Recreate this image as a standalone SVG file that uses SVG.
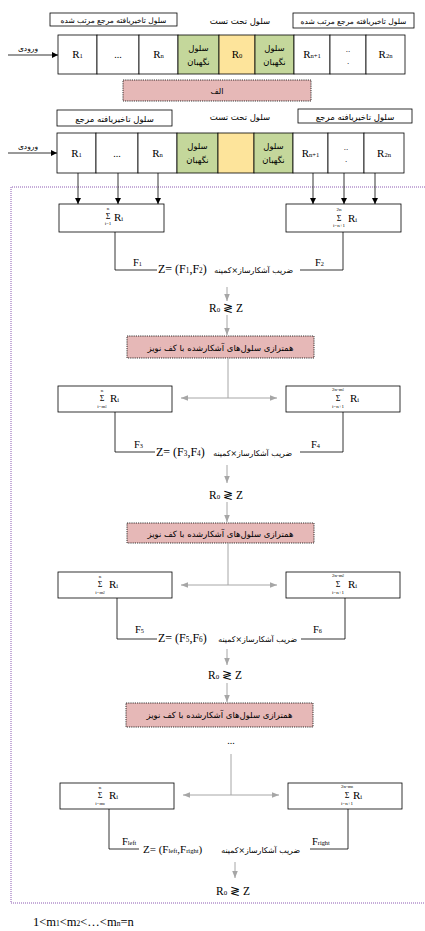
<svg xmlns="http://www.w3.org/2000/svg" width="425" height="931" viewBox="0 0 425 931">
<defs>
<style>
.cell{fill:#fff;stroke:#000;stroke-width:0.8}
.gc{fill:#c4d79b;stroke:#000;stroke-width:0.8}
.yc{fill:#fde49b;stroke:#000;stroke-width:0.8}
.pink{fill:#e6b8b7;stroke:#000;stroke-width:0.8;stroke-dasharray:1.2 1}
.box{fill:#fff;stroke:#000;stroke-width:0.8}
.fa{font-family:"DejaVu Sans",sans-serif;fill:#000}
.lt{font-family:"Liberation Serif",serif;fill:#000}
.blk{stroke:#000;stroke-width:0.8;fill:none}
.gry{stroke:#a6a6a6;stroke-width:1;fill:none}
.pur{stroke:#7030a0;stroke-width:0.8;fill:none;stroke-dasharray:1 1}
.s{font-size:60%}
</style>
<marker id="ab" viewBox="0 0 10 10" refX="10" refY="5" markerWidth="6" markerHeight="6" orient="auto-start-reverse" markerUnits="userSpaceOnUse"><path d="M0,0 L10,5 L0,10 z" fill="#000"/></marker>
<marker id="ag" viewBox="0 0 10 10" refX="10" refY="5" markerWidth="7" markerHeight="7" orient="auto-start-reverse" markerUnits="userSpaceOnUse"><path d="M0,1 L10,5 L0,9 z" fill="#a6a6a6"/></marker>
</defs>

<g id="rowA">
<rect class="box" x="50" y="13" width="127" height="13"/>
<text class="fa" x="113.5" y="22.5" font-size="7.5" text-anchor="middle">سلول تاخیریافته مرجع مرتب شده</text>
<rect class="box" x="293" y="13" width="121" height="15"/>
<text class="fa" x="353.5" y="23.5" font-size="7.5" text-anchor="middle">سلول تاخیریافته مرجع مرتب شده</text>
<text class="fa" x="240" y="24" font-size="8.5" text-anchor="middle">سلول تحت تست</text>
<rect class="cell" x="58" y="35" width="39" height="39"/>
<rect class="cell" x="97" y="35" width="42" height="39"/>
<rect class="cell" x="139" y="35" width="39" height="39"/>
<rect class="gc" x="178" y="35" width="41" height="39"/>
<rect class="yc" x="219" y="35" width="36" height="39"/>
<rect class="gc" x="255" y="35" width="39" height="39"/>
<rect class="cell" x="294" y="35" width="36" height="39"/>
<rect class="cell" x="330" y="35" width="36" height="39"/>
<rect class="cell" x="366" y="35" width="39" height="39"/>
<text class="lt" x="77.5" y="58" font-size="11" text-anchor="middle">R<tspan class="s">1</tspan></text>
<text class="lt" x="118" y="58" font-size="10" text-anchor="middle">...</text>
<text class="lt" x="158.5" y="58" font-size="11" text-anchor="middle">R<tspan class="s">n</tspan></text>
<text class="fa" x="198.5" y="51" font-size="8.5" text-anchor="middle">سلول</text>
<text class="fa" x="198.5" y="65" font-size="8.5" text-anchor="middle">نگهبان</text>
<text class="lt" x="237" y="58" font-size="11" text-anchor="middle">R<tspan class="s">0</tspan></text>
<text class="fa" x="274.5" y="51" font-size="8.5" text-anchor="middle">سلول</text>
<text class="fa" x="274.5" y="65" font-size="8.5" text-anchor="middle">نگهبان</text>
<text class="lt" x="312" y="58" font-size="11" text-anchor="middle">R<tspan class="s">n+1</tspan></text>
<text class="lt" x="348" y="52" font-size="9" text-anchor="middle">..</text>
<text class="lt" x="348" y="64" font-size="9" text-anchor="middle">.</text>
<text class="lt" x="385.5" y="58" font-size="11" text-anchor="middle">R<tspan class="s">2n</tspan></text>
<text class="fa" x="28" y="51" font-size="7.5" text-anchor="middle">ورودی</text>
</g>
<g id="alef">
<rect class="pink" x="123" y="80" width="188" height="21"/>
<text class="fa" x="217" y="94" font-size="8" text-anchor="middle">الف</text>
</g>

<g id="rowB">
<rect class="box" x="57" y="110" width="115" height="16"/>
<text class="fa" x="114.5" y="121.5" font-size="8.5" text-anchor="middle">سلول تاخیریافته مرجع</text>
<rect class="box" x="298" y="109" width="114" height="14"/>
<text class="fa" x="355" y="119.5" font-size="8.5" text-anchor="middle">سلول تاخیریافته مرجع</text>
<text class="fa" x="240" y="120" font-size="8.5" text-anchor="middle">سلول تحت تست</text>
<rect class="cell" x="57" y="133" width="39" height="40"/>
<rect class="cell" x="96" y="133" width="42" height="40"/>
<rect class="cell" x="138" y="133" width="39" height="40"/>
<rect class="gc" x="177" y="133" width="41" height="40"/>
<rect class="yc" x="218" y="133" width="36" height="40"/>
<rect class="gc" x="254" y="133" width="39" height="40"/>
<rect class="cell" x="293" y="133" width="35" height="40"/>
<rect class="cell" x="328" y="133" width="36" height="40"/>
<rect class="cell" x="364" y="133" width="40" height="40"/>
<text class="lt" x="76.5" y="157" font-size="11" text-anchor="middle">R<tspan class="s">1</tspan></text>
<text class="lt" x="117" y="157" font-size="10" text-anchor="middle">...</text>
<text class="lt" x="157.5" y="157" font-size="11" text-anchor="middle">R<tspan class="s">n</tspan></text>
<text class="fa" x="197.5" y="149" font-size="8.5" text-anchor="middle">سلول</text>
<text class="fa" x="197.5" y="163" font-size="8.5" text-anchor="middle">نگهبان</text>
<text class="fa" x="273.5" y="149" font-size="8.5" text-anchor="middle">سلول</text>
<text class="fa" x="273.5" y="163" font-size="8.5" text-anchor="middle">نگهبان</text>
<text class="lt" x="310.5" y="157" font-size="11" text-anchor="middle">R<tspan class="s">n+1</tspan></text>
<text class="lt" x="346" y="150" font-size="9" text-anchor="middle">..</text>
<text class="lt" x="346" y="162" font-size="9" text-anchor="middle">.</text>
<text class="lt" x="384" y="157" font-size="11" text-anchor="middle">R<tspan class="s">2n</tspan></text>
<text class="fa" x="28" y="149" font-size="7.5" text-anchor="middle">ورودی</text>
</g>

<g id="frame">
<path class="pur" d="M425,187 H11 V903 H425"/>
</g>

<g id="sumL1">
<rect class="box" x="59" y="204" width="105" height="28"/>
<text class="lt" x="108" y="210" font-size="5" text-anchor="middle">n</text>
<text class="lt" x="108" y="219" font-size="8" text-anchor="middle">Σ</text>
<text class="lt" x="108" y="225" font-size="5" text-anchor="middle">i=1</text>
<text class="lt" x="114" y="221" font-size="11">R<tspan class="s">i</tspan></text>
</g>
<g id="sumR1">
<rect class="box" x="286" y="204" width="115" height="28"/>
<text class="lt" x="339" y="211" font-size="5" text-anchor="middle">2n</text>
<text class="lt" x="339" y="221" font-size="8" text-anchor="middle">Σ</text>
<text class="lt" x="339" y="227" font-size="5" text-anchor="middle">i=n+1</text>
<text class="lt" x="348" y="222" font-size="11">R<tspan class="s">i</tspan></text>
</g>
<g id="sumL2">
<rect class="box" x="58" y="386" width="114" height="26"/>
<text class="lt" x="102" y="392" font-size="5" text-anchor="middle">n</text>
<text class="lt" x="102" y="401" font-size="8" text-anchor="middle">Σ</text>
<text class="lt" x="102" y="408" font-size="5" text-anchor="middle">i=m<tspan class="s">1</tspan></text>
<text class="lt" x="110" y="402" font-size="11">R<tspan class="s">i</tspan></text>
</g>
<g id="sumR2">
<rect class="box" x="286" y="386" width="114" height="26"/>
<text class="lt" x="338" y="391" font-size="5" text-anchor="middle">2n-m<tspan class="s">1</tspan></text>
<text class="lt" x="338" y="401" font-size="8" text-anchor="middle">Σ</text>
<text class="lt" x="338" y="408" font-size="5" text-anchor="middle">i=n+1</text>
<text class="lt" x="350" y="402" font-size="11">R<tspan class="s">i</tspan></text>
</g>
<g id="sumL3">
<rect class="box" x="58" y="572" width="114" height="26"/>
<text class="lt" x="100" y="578" font-size="5" text-anchor="middle">n</text>
<text class="lt" x="100" y="587" font-size="8" text-anchor="middle">Σ</text>
<text class="lt" x="100" y="594" font-size="5" text-anchor="middle">i=m<tspan class="s">2</tspan></text>
<text class="lt" x="109" y="588" font-size="11">R<tspan class="s">i</tspan></text>
</g>
<g id="sumR3">
<rect class="box" x="286" y="572" width="114" height="26"/>
<text class="lt" x="338" y="577" font-size="5" text-anchor="middle">2n-m<tspan class="s">2</tspan></text>
<text class="lt" x="338" y="587" font-size="8" text-anchor="middle">Σ</text>
<text class="lt" x="338" y="594" font-size="5" text-anchor="middle">i=n+1</text>
<text class="lt" x="348" y="588" font-size="11">R<tspan class="s">i</tspan></text>
</g>
<g id="sumL4">
<rect class="box" x="60" y="783" width="114" height="26"/>
<text class="lt" x="100" y="789" font-size="5" text-anchor="middle">n</text>
<text class="lt" x="100" y="798" font-size="8" text-anchor="middle">Σ</text>
<text class="lt" x="100" y="805" font-size="5" text-anchor="middle">i=m<tspan class="s">n</tspan></text>
<text class="lt" x="109" y="799" font-size="11">R<tspan class="s">i</tspan></text>
</g>
<g id="sumR4">
<rect class="box" x="288" y="783" width="114" height="26"/>
<text class="lt" x="347" y="788" font-size="5" text-anchor="middle">2n-m<tspan class="s">n</tspan></text>
<text class="lt" x="347" y="798" font-size="8" text-anchor="middle">Σ</text>
<text class="lt" x="347" y="805" font-size="5" text-anchor="middle">i=n+1</text>
<text class="lt" x="353" y="799" font-size="11">R<tspan class="s">i</tspan></text>
</g>

<g id="align1">
<rect class="pink" x="127" y="336" width="187" height="22"/>
<text class="fa" x="220.5" y="350.5" font-size="8.5" text-anchor="middle">همترازی سلول‌های آشکارشده با کف نویز</text>
</g>
<g id="align2">
<rect class="pink" x="127" y="523" width="187" height="20"/>
<text class="fa" x="220.5" y="536.5" font-size="8.5" text-anchor="middle">همترازی سلول‌های آشکارشده با کف نویز</text>
</g>
<g id="align3">
<rect class="pink" x="126" y="703" width="187" height="24"/>
<text class="fa" x="219.5" y="718" font-size="8.5" text-anchor="middle">همترازی سلول‌های آشکارشده با کف نویز</text>
</g>

<g id="z1">
<text class="lt" x="158" y="273" font-size="12">Z= (F<tspan class="s">1</tspan>,F<tspan class="s">2</tspan>)</text>
<text class="fa" x="293" y="273" font-size="7.8" text-anchor="end">ضریب آشکارساز×کمینه</text>
<text class="lt" x="133" y="266" font-size="10.5">F<tspan class="s">1</tspan></text>
<text class="lt" x="315" y="266" font-size="10.5">F<tspan class="s">2</tspan></text>
</g>
<g id="z2">
<text class="lt" x="156" y="456" font-size="12">Z= (F<tspan class="s">3</tspan>,F<tspan class="s">4</tspan>)</text>
<text class="fa" x="292" y="456" font-size="7.8" text-anchor="end">ضریب آشکارساز×کمینه</text>
<text class="lt" x="134" y="448" font-size="10.5">F<tspan class="s">3</tspan></text>
<text class="lt" x="311" y="448" font-size="10.5">F<tspan class="s">4</tspan></text>
</g>
<g id="z3">
<text class="lt" x="158" y="642" font-size="12">Z= (F<tspan class="s">5</tspan>,F<tspan class="s">6</tspan>)</text>
<text class="fa" x="297" y="642" font-size="7.8" text-anchor="end">ضریب آشکارساز×کمینه</text>
<text class="lt" x="135" y="633" font-size="10.5">F<tspan class="s">5</tspan></text>
<text class="lt" x="313" y="633" font-size="10.5">F<tspan class="s">6</tspan></text>
</g>
<g id="z4">
<text class="lt" x="143" y="853" font-size="11">Z= (F<tspan class="s">left</tspan>,F<tspan class="s">right</tspan>)</text>
<text class="fa" x="300" y="853" font-size="7.8" text-anchor="end">ضریب آشکارساز×کمینه</text>
<text class="lt" x="122" y="845" font-size="10.5">F<tspan class="s">left</tspan></text>
<text class="lt" x="312" y="845" font-size="10.5">F<tspan class="s">right</tspan></text>
</g>

<g id="cmp1"><text class="lt" x="226" y="312" font-size="11.5" text-anchor="middle">R<tspan class="s">0</tspan> ≷ Z</text></g>
<g id="cmp2"><text class="lt" x="226" y="499" font-size="11.5" text-anchor="middle">R<tspan class="s">0</tspan> ≷ Z</text></g>
<g id="cmp3"><text class="lt" x="225" y="679" font-size="11.5" text-anchor="middle">R<tspan class="s">0</tspan> ≷ Z</text></g>
<g id="cmp4"><text class="lt" x="233" y="895" font-size="11.5" text-anchor="middle">R<tspan class="s">0</tspan> ≷ Z</text></g>
<g id="dots"><text class="lt" x="231" y="744" font-size="10" text-anchor="middle">...</text></g>
<g id="note"><text class="lt" x="33" y="926" font-size="12.5">1&lt;m<tspan class="s">1</tspan>&lt;m<tspan class="s">2</tspan>&lt;…&lt;m<tspan class="s">n</tspan>=n</text></g>

<g id="connectors">
<line class="blk" x1="8" y1="55" x2="58" y2="55" marker-end="url(#ab)"/>
<line class="blk" x1="8" y1="153" x2="57" y2="153" marker-end="url(#ab)"/>
<line class="blk" x1="78" y1="173" x2="78" y2="204" marker-end="url(#ab)"/>
<line class="blk" x1="118" y1="173" x2="118" y2="204" marker-end="url(#ab)"/>
<line class="blk" x1="158" y1="173" x2="158" y2="204" marker-end="url(#ab)"/>
<line class="blk" x1="313" y1="173" x2="313" y2="204" marker-end="url(#ab)"/>
<line class="blk" x1="344" y1="173" x2="344" y2="204" marker-end="url(#ab)"/>
<line class="blk" x1="375" y1="173" x2="375" y2="204" marker-end="url(#ab)"/>
<path class="blk" d="M115,232 V270 H157"/>
<path class="blk" d="M343,232 V270 H300"/>
<path class="blk" d="M115,412 V452 H155"/>
<path class="blk" d="M343,412 V452 H300"/>
<path class="blk" d="M117,598 V639 H157"/>
<path class="blk" d="M345,598 V639 H301"/>
<path class="blk" d="M109,809 V849 H139"/>
<path class="blk" d="M348,809 V849 H310"/>
<line class="gry" x1="227" y1="287" x2="227" y2="301" marker-end="url(#ag)"/>
<line class="gry" x1="227" y1="315" x2="227" y2="335" marker-end="url(#ag)"/>
<line class="gry" x1="228" y1="358" x2="228" y2="398"/>
<line class="gry" x1="181" y1="398" x2="277" y2="398" marker-start="url(#ag)" marker-end="url(#ag)"/>
<line class="gry" x1="227" y1="465" x2="227" y2="483" marker-end="url(#ag)"/>
<line class="gry" x1="227" y1="502" x2="227" y2="522" marker-end="url(#ag)"/>
<line class="gry" x1="228" y1="543" x2="228" y2="585"/>
<line class="gry" x1="181" y1="585" x2="277" y2="585" marker-start="url(#ag)" marker-end="url(#ag)"/>
<line class="gry" x1="227" y1="649" x2="227" y2="665" marker-end="url(#ag)"/>
<line class="gry" x1="227" y1="683" x2="227" y2="702" marker-end="url(#ag)"/>
<line class="gry" x1="231" y1="754" x2="231" y2="795"/>
<line class="gry" x1="183" y1="795" x2="279" y2="795" marker-start="url(#ag)" marker-end="url(#ag)"/>
<line class="gry" x1="235" y1="862" x2="235" y2="878" marker-end="url(#ag)"/>
</g>
</svg>
